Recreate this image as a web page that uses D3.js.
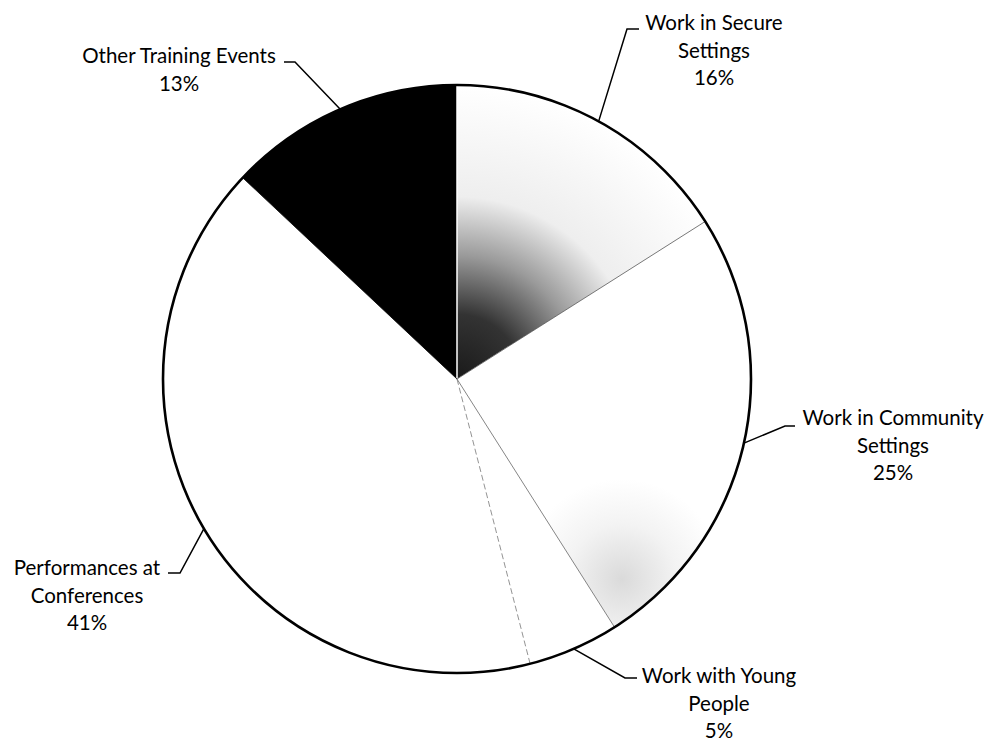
<!DOCTYPE html>
<html>
<head>
<meta charset="utf-8">
<script src="https://cdn.jsdelivr.net/npm/d3@7"></script>
<style>
  body { margin: 0; background: #fff; }
  text { font-family: Lato, "Open Sans", sans-serif; fill: #000; }
</style>
</head>
<body>
<svg width="988" height="742"></svg>
<script>
// slice data, clockwise from 12 o'clock
var categories = ["Work in Secure Settings", "Work in Community Settings", "Work with Young People", "Performances at Conferences", "Other Training Events"];
var shares = [16, 25, 5, 41, 13];
// how each label is broken into lines
var labelLines = [
  ["Work in Secure", "Settings", "16%"],
  ["Work in Community", "Settings", "25%"],
  ["Work with Young", "People", "5%"],
  ["Performances at", "Conferences", "41%"],
  ["Other Training Events", "13%"]
];

var svg = d3.select("svg"),
    cx = 457, cy = 379,
    radius = 294;

// label placement: text centre x, first baseline, elbow of leader, stub end
var labelPos = [
  { x: 714, y: 30, ex: 627, ey: 29, sx: 639 },
  { x: 893, y: 425, ex: 785, ey: 426, sx: 795 },
  { x: 719, y: 683, ex: 625, ey: 678, sx: 637 },
  { x: 87, y: 575, ex: 180, ey: 573, sx: 168 },
  { x: 179, y: 63, ex: 295, ey: 62, sx: 284 }
];

var defs = svg.append("defs");

// grey for the first slice, dark at the hub
var g1 = defs.append("radialGradient")
  .attr("id", "secureFill")
  .attr("gradientUnits", "userSpaceOnUse")
  .attr("cx", 0).attr("cy", 0).attr("r", radius);
g1.append("stop").attr("offset", "0%").attr("stop-color", "#1a1a1a");
g1.append("stop").attr("offset", "22%").attr("stop-color", "#333333");
g1.append("stop").attr("offset", "42%").attr("stop-color", "#9a9a9a");
g1.append("stop").attr("offset", "62%").attr("stop-color", "#eeeeee");
g1.append("stop").attr("offset", "100%").attr("stop-color", "#ffffff");

// faint speckle toward the rim of the community slice
var g2 = defs.append("radialGradient")
  .attr("id", "communityFill")
  .attr("gradientUnits", "userSpaceOnUse")
  .attr("cx", 165).attr("cy", 200).attr("r", 100);
g2.append("stop").attr("offset", "0%").attr("stop-color", "#dadada");
g2.append("stop").attr("offset", "55%").attr("stop-color", "#f3f3f3");
g2.append("stop").attr("offset", "100%").attr("stop-color", "#ffffff");

var fills = ["url(#secureFill)", "url(#communityFill)", "#ffffff", "#ffffff", "#000000"];
var edges = ["#ffffff", "#555555", "#666666", "#777777", "#000000"];

var pie = d3.pie().sort(null).value(function(d) { return d; });
var arcs = pie(shares);

var arc = d3.arc().innerRadius(0).outerRadius(radius);

var g = svg.append("g").attr("transform", "translate(" + cx + "," + cy + ")");

g.selectAll(".slice")
  .data(arcs)
  .enter().append("path")
  .attr("class", "slice")
  .attr("d", arc)
  .attr("fill", function(d, i) { return fills[i]; });

// thin separators between slices (drawn along each slice's start angle)
g.selectAll(".sep")
  .data(arcs)
  .enter().append("line")
  .attr("class", "sep")
  .attr("x1", 0).attr("y1", 0)
  .attr("x2", function(d) { return radius * Math.sin(d.startAngle); })
  .attr("y2", function(d) { return -radius * Math.cos(d.startAngle); })
  .attr("stroke", function(d, i) { return edges[i]; })
  .attr("stroke-width", function(d, i) { return i === 0 ? 1.5 : 0.8; })
  .attr("stroke-dasharray", function(d, i) { return i === 3 ? "6,3" : null; });

// outline
g.append("circle")
  .attr("r", radius)
  .attr("fill", "none")
  .attr("stroke", "#000")
  .attr("stroke-width", 2.6);

// leader lines from the middle of each slice's rim
g.selectAll(".leader")
  .data(arcs)
  .enter().append("polyline")
  .attr("class", "leader")
  .attr("fill", "none")
  .attr("stroke", "#000")
  .attr("stroke-width", 1.5)
  .attr("points", function(d, i) {
    var a = (d.startAngle + d.endAngle) / 2,
        p = labelPos[i];
    return [
      [radius * Math.sin(a), -radius * Math.cos(a)],
      [p.ex - cx, p.ey - cy],
      [p.sx - cx, p.ey - cy]
    ].join(" ");
  });

// labels
svg.selectAll(".label")
  .data(labelLines)
  .enter().append("text")
  .attr("class", "label")
  .attr("text-anchor", "middle")
  .attr("font-size", "20.5px")
  .attr("x", function(d, i) { return labelPos[i].x; })
  .attr("y", function(d, i) { return labelPos[i].y; })
  .selectAll("tspan")
  .data(function(d) { return d; })
  .enter().append("tspan")
  .attr("x", function() { return d3.select(this.parentNode).attr("x"); })
  .attr("dy", function(d, j) { return j === 0 ? 0 : 27.5; })
  .text(function(d) { return d; });
</script>
</body>
</html>
